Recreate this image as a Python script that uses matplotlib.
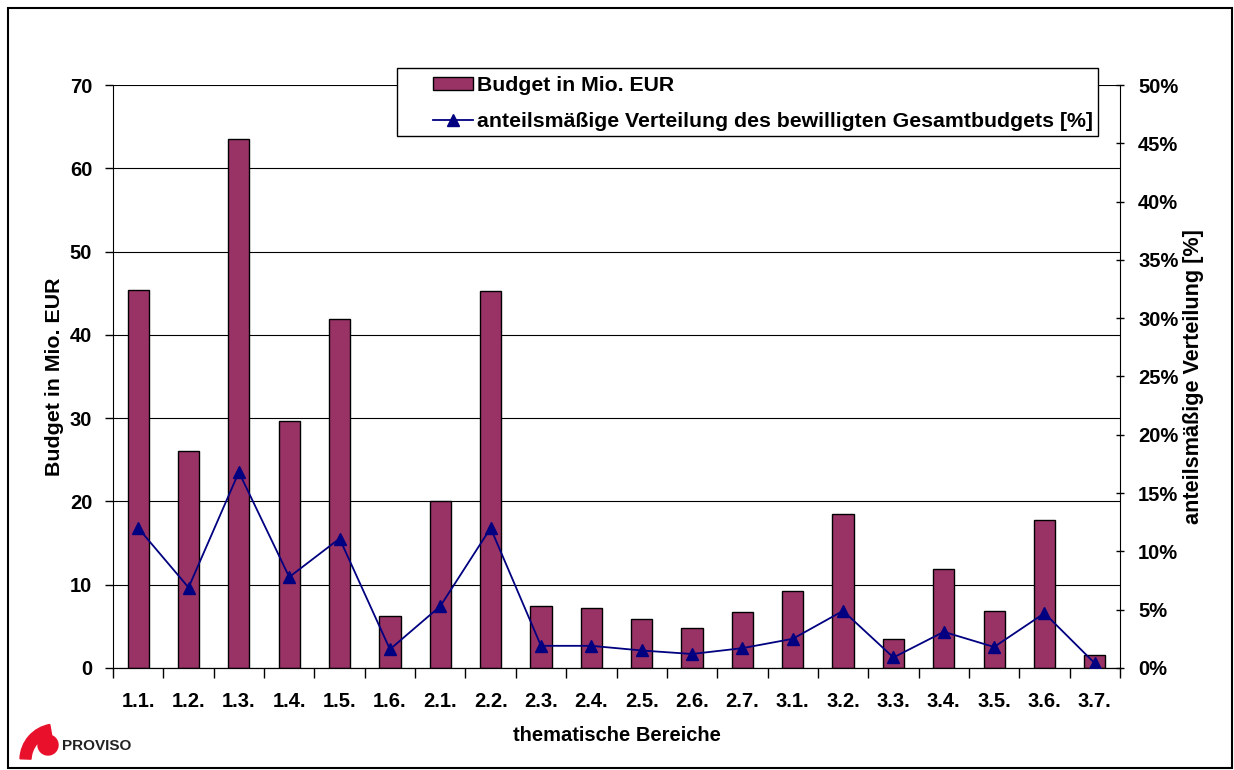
import numpy as np
from matplotlib import pyplot as plt
import matplotlib.patches as mpatches
from matplotlib.ticker import FuncFormatter, MultipleLocator

plt.rcParams['font.family'] = ['Liberation Sans', 'DejaVu Sans']
plt.rcParams['font.weight'] = 'bold'

categories = ["1.1.", "1.2.", "1.3.", "1.4.", "1.5.", "1.6.", "2.1.", "2.2.", "2.3.", "2.4.",
              "2.5.", "2.6.", "2.7.", "3.1.", "3.2.", "3.3.", "3.4.", "3.5.", "3.6.", "3.7."]
budget = [45.4, 26.0, 63.5, 29.6, 41.9, 6.2, 20.1, 45.3, 7.4, 7.2,
          5.9, 4.8, 6.7, 9.3, 18.5, 3.5, 11.9, 6.8, 17.8, 1.6]
share = [12.0, 6.9, 16.8, 7.8, 11.1, 1.6, 5.3, 12.0, 1.9, 1.9,
         1.5, 1.2, 1.7, 2.5, 4.9, 0.9, 3.1, 1.8, 4.7, 0.4]

bar_color = "#993366"
line_color = "#000080"
fs = 14.5

fig = plt.figure(figsize=(12.34, 7.7), dpi=100)
ax = fig.add_axes([0.0916, 0.1325, 0.8160, 0.7571])
x = np.arange(len(categories))

ax.bar(x, budget, width=0.42, color=bar_color, edgecolor="black", linewidth=1,
       label="Budget in Mio. EUR", zorder=2)
ax.set_xlim(-0.5, len(categories) - 0.5)
ax.set_ylim(0, 70)
ax.yaxis.set_major_locator(MultipleLocator(10))
ax.grid(axis="y", color="black", linewidth=0.8, zorder=0)
ax.set_axisbelow(True)
ax.set_xticks(x)
ax.set_xticklabels(categories, fontsize=fs, fontweight="bold")
ax.tick_params(axis="x", length=0, pad=17)
ax.set_xticks(np.arange(len(categories) + 1) - 0.5, minor=True)
ax.tick_params(axis="x", which="minor", length=7, width=1, direction="out")
ax.tick_params(axis="y", labelsize=fs, length=6, width=1, direction="out", pad=9)
for lbl in ax.get_yticklabels():
    lbl.set_fontweight("bold")
ax.spines["top"].set_visible(False)
ax.spines["right"].set_visible(False)
ax.set_ylabel("Budget in Mio. EUR", fontsize=15.4, fontweight="bold", labelpad=4)
ax.set_xlabel("thematische Bereiche", fontsize=fs, fontweight="bold", labelpad=11)

ax2 = ax.twinx()
ax2.plot(x, share, color=line_color, marker="^", markersize=9, linewidth=1.3,
         label="anteilsmäßige Verteilung des bewilligten Gesamtbudgets [%]", zorder=3)
ax2.set_ylim(0, 50)
ax2.yaxis.set_major_locator(MultipleLocator(5))
ax2.yaxis.set_major_formatter(FuncFormatter(lambda v, p: f"{v:.0f}%"))
ax2.tick_params(axis="y", labelsize=fs, length=6, width=1, direction="inout", pad=10)
for lbl in ax2.get_yticklabels():
    lbl.set_fontweight("bold")
ax2.spines["top"].set_visible(False)
ax2.spines["left"].set_visible(False)
ax2.set_ylabel("anteilsmäßige Verteilung [%]", fontsize=15.6, fontweight="bold", labelpad=3)

# legend box
fig.patches.append(mpatches.Rectangle((397 / 1234, 1 - 136 / 770), 701 / 1234, 68 / 770,
                                      transform=fig.transFigure, facecolor="white",
                                      edgecolor="black", linewidth=1, zorder=5))
h1, l1 = ax.get_legend_handles_labels()
h2, l2 = ax2.get_legend_handles_labels()
leg = fig.legend(h1 + h2, l1 + l2, loc="upper left", bbox_to_anchor=(433 / 1234, 1 - 76 / 770),
                 fontsize=15.3, frameon=False, borderpad=0, handlelength=1.9,
                 handletextpad=0.15, borderaxespad=0, labelspacing=0.8, handleheight=0.6)
leg.set_zorder(10)
for t in leg.get_texts():
    t.set_fontweight("bold")

# outer border
fig.patches.append(mpatches.Rectangle((8 / 1234, 0.002), 1 - 10 / 1234, 1 - 10 / 770,
                                      transform=fig.transFigure, fill=False,
                                      edgecolor="black", linewidth=1.5))

# logo
logo = fig.add_axes([14 / 1234, 4 / 770, 52 / 1234, 60 / 770])
logo.set_xlim(0, 52)
logo.set_ylim(0, 60)
logo.set_aspect("equal")
logo.axis("off")
logo.add_patch(mpatches.Circle((34, 21), 10, color="#e8102a"))
logo.add_patch(mpatches.Wedge((42, 6), 36, 100, 178, width=11, color="#e8102a"))
fig.text(62 / 1234, 1 - 746 / 770, "PROVISO", fontsize=11, fontweight="bold",
         va="center", ha="left", color="#222222", stretch="condensed")

fig.savefig("out.png", dpi=100)
